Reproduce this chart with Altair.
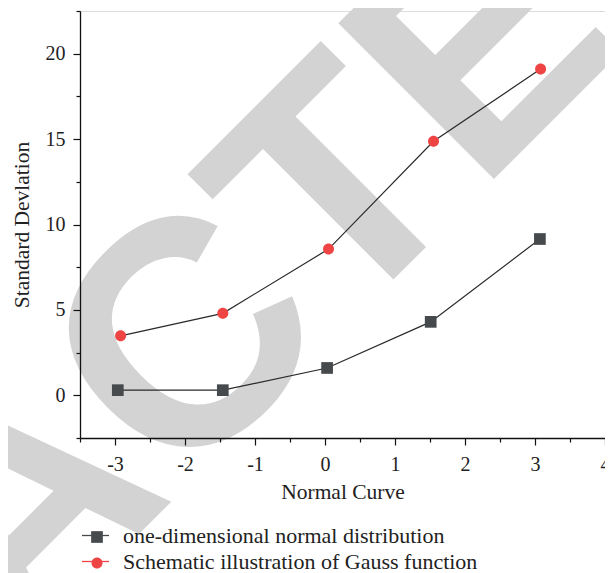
import altair as alt
import pandas as pd

# ---- data ----
names = ["one-dimensional normal distribution", "Schematic illustration of Gauss function"]
x_square = [-2.96, -1.46, 0.03, 1.51, 3.07]
y_square = [0.3, 0.3, 1.6, 4.3, 9.15]
x_circle = [-2.92, -1.46, 0.05, 1.55, 3.08]
y_circle = [3.48, 4.8, 8.56, 14.87, 19.1]

x_major = [-3, -2, -1, 0, 1, 2, 3, 4]
x_minor = [-3.5, -2.5, -1.5, -0.5, 0.5, 1.5, 2.5, 3.5]
y_major = [0, 5, 10, 15, 20]
y_minor = [-2.5, 2.5, 7.5, 12.5, 17.5, 22.5]

watermark = ["RETRACTED"]

colors = ["#464a4d", "#ee4444"]
FONT = "Liberation Serif"

rows = []
for i, (xs, ys) in enumerate([(x_square, y_square), (x_circle, y_circle)]):
    for k, (a, b) in enumerate(zip(xs, ys)):
        rows.append({"series": names[i], "x": a, "y": b, "order": k})
df = pd.DataFrame(rows)

xscale = alt.Scale(domain=[-3.5, 4], nice=False, zero=False)
yscale = alt.Scale(domain=[-2.5, 22.5], nice=False, zero=False)

ax_common = dict(labelFont=FONT, titleFont=FONT, labelFontSize=20, titleFontSize=21.5,
                 labelColor="#222", titleColor="#222", domainColor="#111", tickColor="#111",
                 domainWidth=1.3, tickWidth=1.2, grid=False, zindex=1, titleFontWeight="normal",
                 labelExpr="replace(datum.label, '\u2212', '-')")

x_major_axis = alt.Axis(orient="bottom", values=x_major, tickSize=7, labelPadding=9,
                        title="Normal Curve", titlePadding=7, labelFlush=False, **ax_common)
y_major_axis = alt.Axis(orient="left", values=y_major, tickSize=7, labelPadding=8,
                        title="Standard Devlation", titlePadding=12, **ax_common)
x_minor_axis = alt.Axis(orient="bottom", values=x_minor, tickSize=4, labels=False, domain=False,
                        title=None, tickColor="#111", tickWidth=1.2, grid=False, zindex=1)
y_minor_axis = alt.Axis(orient="left", values=y_minor, tickSize=4, labels=False, domain=False,
                        title=None, tickColor="#111", tickWidth=1.2, grid=False, zindex=1)

base = alt.Chart(df)

wm = alt.Chart(pd.DataFrame({"t": watermark})).mark_text(
    font="Liberation Sans", fontWeight="bold", fontSize=320, color="#d3d3d3",
    angle=315, align="center", baseline="alphabetic"
).encode(text="t:N", x=alt.value(15.5), y=alt.value(566.5))

lines = base.mark_line(color="#2a2a2a", strokeWidth=1.2).encode(
    x=alt.X("x:Q", scale=xscale, axis=x_major_axis),
    y=alt.Y("y:Q", scale=yscale, axis=y_major_axis),
    detail="series:N",
    order="order:O",
)

sq_path = "M-0.37,-0.37L0.37,-0.37L0.37,0.37L-0.37,0.37Z"
ci_path = "M0.37,0A0.37,0.37,0,1,1,-0.37,0A0.37,0.37,0,1,1,0.37,0Z"

leg_args = dict(title=None, orient="none", legendX=1, legendY=510, symbolSize=729,
                labelFont=FONT, labelFontSize=22, labelOffset=13, rowPadding=0,
                padding=0, labelLimit=600)

leg_marker = alt.Legend(symbolStrokeWidth=0, labelExpr="''", zindex=2, **leg_args)
leg_line = alt.Legend(symbolType="stroke", symbolStrokeWidth=1.3, labelColor="#222",
                      zindex=1, **leg_args)

points = base.mark_point(filled=True, opacity=1).encode(
    x=alt.X("x:Q", scale=xscale, axis=x_minor_axis),
    y=alt.Y("y:Q", scale=yscale, axis=y_minor_axis),
    color=alt.Color("series:N", scale=alt.Scale(domain=names, range=colors), legend=leg_marker),
    shape=alt.Shape("series:N", scale=alt.Scale(domain=names, range=[sq_path, ci_path]), legend=leg_marker),
    size=alt.Size("series:N", scale=alt.Scale(domain=names, range=[1000, 884]), legend=None),
)

legend_lines = base.transform_filter("false").mark_line(strokeWidth=1.3).encode(
    x=alt.X("x:Q", scale=xscale, axis=None),
    y=alt.Y("y:Q", scale=yscale, axis=None),
    color=alt.Color("series:N", scale=alt.Scale(domain=names, range=colors), legend=leg_line),
)

chart = alt.layer(wm, lines, legend_lines, points).resolve_scale(
    color="independent", shape="independent", size="independent"
).resolve_axis(
    x="independent", y="independent"
).properties(
    width=525, height=427,
    padding={"left": 72, "top": 3, "right": 0, "bottom": 135},
    autosize=alt.AutoSizeParams(type="none"),
).configure_view(
    stroke="#111", strokeWidth=1.3
).configure(background="white")

chart.save("out.html", embed_options={"renderer": "svg", "actions": False})
